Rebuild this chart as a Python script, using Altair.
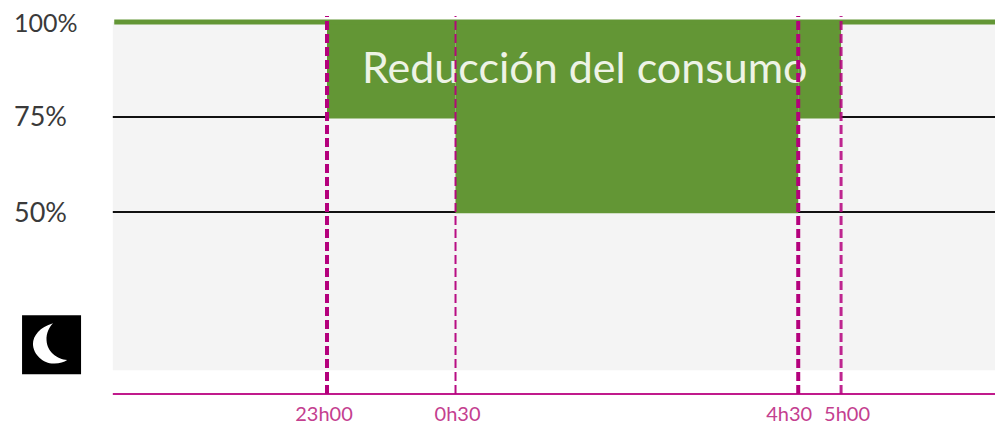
import altair as alt
import pandas as pd

# Minutes relative to 23h00
tick_minutes = [0, 90, 330, 360]
tick_labels = ["23h00", "0h30", "4h30", "5h00"]
tick_widths = [4, 2, 4, 3]
tick_label_dx = [-3, 2, -9, 6]
tick_opacity = [1, 0.95, 1, 0.85]

levels = [100, 75, 50]
level_labels = ["100%", "75%", "50%"]
level_label_sizes = [25, 27, 27]
level_label_dy = [2, 1, 2]

block_start = [0, 90, 330]
block_end = [90, 330, 360]
block_low = [74.6, 49.7, 74.6]

LEFT, RIGHT = -150, 467.8
X_MIN, Y_MIN, Y_MAX = -223.4, -6.3, 103.68
BG_LOW = 8.4
AXIS_Y = 2.1
LABEL_X = -219.2
TICK_Y = -3.4

GREEN = "#639635"
PURPLE = "#b4007c"
FONT = "Lato"

x_scale = alt.Scale(domain=[X_MIN, RIGHT], range=[0, 987], nice=False, zero=False)
y_scale = alt.Scale(domain=[Y_MIN, Y_MAX], range=[418, 0], nice=False, zero=False)
X = lambda f: alt.X(f, type="quantitative", scale=x_scale, axis=None)
Y = lambda f: alt.Y(f, type="quantitative", scale=y_scale, axis=None)

layers = []

# Grey background
bg = pd.DataFrame({"a": [LEFT], "b": [RIGHT], "lo": [BG_LOW], "hi": [100]})
layers.append(alt.Chart(bg).mark_rect(color="#f4f4f4").encode(
    x=X("a"), x2="b", y=Y("lo"), y2="hi"))

# Black reference lines
black = pd.DataFrame({
    "a": [LEFT, 360, LEFT],
    "b": [0, RIGHT, RIGHT],
    "v": [75, 75, 50],
})
layers.append(alt.Chart(black).mark_rule(color="#111111", strokeWidth=2).encode(
    x=X("a"), x2="b", y=Y("v")))

# Green consumption blocks
blocks = pd.DataFrame({"a": block_start, "b": block_end, "lo": block_low, "hi": [100, 100, 100]})
layers.append(alt.Chart(blocks).mark_rect(color=GREEN).encode(
    x=X("a"), x2="b", y=Y("lo"), y2="hi"))

# Green line at 100 %
top = pd.DataFrame({"a": [LEFT + 1], "b": [RIGHT], "v": [100]})
layers.append(alt.Chart(top).mark_rule(color=GREEN, strokeWidth=5).encode(
    x=X("a"), x2="b", y=Y("v")))

# Purple baseline
base = pd.DataFrame({"a": [LEFT], "b": [RIGHT], "v": [AXIS_Y]})
layers.append(alt.Chart(base).mark_rule(color="#c01a8c", strokeWidth=2).encode(
    x=X("a"), x2="b", y=Y("v")))

# Chart title inside the block
d = pd.DataFrame({"x": [180.5], "v": [87.4], "t": ["Reducción del consumo"]})
layers.append(alt.Chart(d).mark_text(
    font=FONT, fontSize=43, color="#eef3e6", align="center", baseline="middle"
).encode(x=X("x"), y=Y("v"), text="t:N"))

# Dashed time markers and labels
for m, lab, w, dx, op in zip(tick_minutes, tick_labels, tick_widths, tick_label_dx, tick_opacity):
    d = pd.DataFrame({"m": [m], "lo": [AXIS_Y], "hi": [101.6], "ly": [TICK_Y], "t": [lab]})
    layers.append(alt.Chart(d).mark_rule(
        color=PURPLE, strokeWidth=w, strokeDash=[9, 4], opacity=op
    ).encode(x=X("m"), y=Y("lo"), y2="hi"))
    layers.append(alt.Chart(d).mark_text(
        font=FONT, fontSize=20, color="#c4408f", align="center", baseline="middle", dx=dx
    ).encode(x=X("m"), y=Y("ly"), text="t:N"))

# Level labels
for v, lab, s, dy in zip(levels, level_labels, level_label_sizes, level_label_dy):
    d = pd.DataFrame({"x": [LABEL_X], "v": [v], "t": [lab]})
    layers.append(alt.Chart(d).mark_text(
        font=FONT, fontSize=s, color="#3a3a3a", align="left", baseline="middle", dy=dy
    ).encode(x=X("x"), y=Y("v"), text="t:N"))

# Moon icon
moon = pd.DataFrame({"x": [-192.9], "v": [15.1]})
layers.append(alt.Chart(moon).mark_point(
    shape="square", filled=True, color="black", size=3481, opacity=1
).encode(x=X("x"), y=Y("v")))
crescent = ("M0.05,-0.73 C-0.4,-0.6 -0.63,-0.3 -0.63,-0.03 C-0.63,0.35 -0.25,0.66 0.1,0.64 "
            "C0.28,0.63 0.42,0.6 0.53,0.52 C0.2,0.5 -0.15,0.25 -0.17,-0.15 "
            "C-0.18,-0.4 -0.08,-0.6 0.05,-0.73 Z")
layers.append(alt.Chart(moon).mark_point(
    shape=crescent, filled=True, color="white", size=3481, opacity=1
).encode(x=X("x"), y=Y("v")))

chart = alt.layer(*layers).properties(
    width=987, height=418, padding=0, autosize=alt.AutoSizeParams(type="none")
).configure_view(stroke=None)

chart.save("out.html", embed_options={"renderer": "svg", "actions": False})
